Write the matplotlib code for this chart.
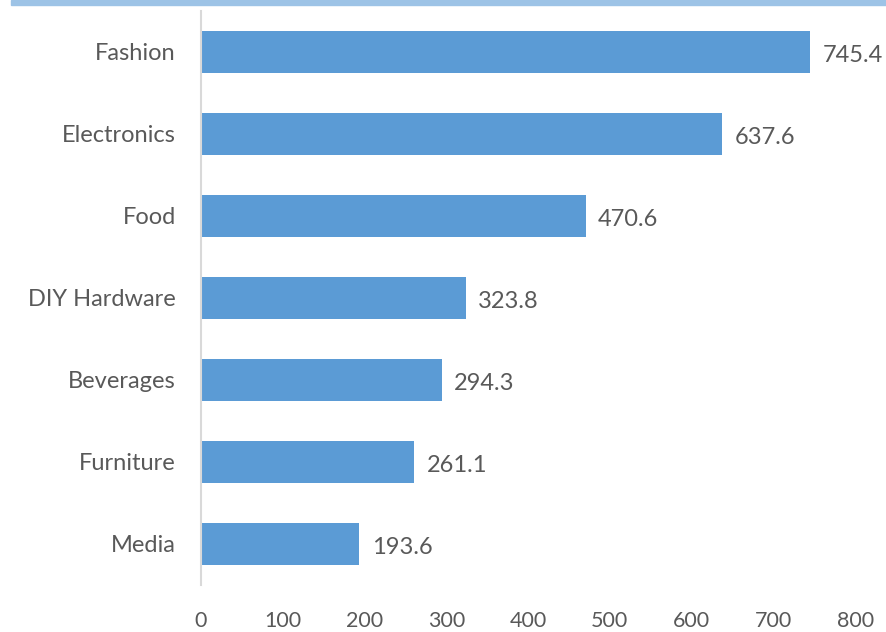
import matplotlib.pyplot as plt
from matplotlib.patches import Rectangle

# sales by category (top to bottom)
categories = ["Fashion", "Electronics", "Food", "DIY Hardware",
              "Beverages", "Furniture", "Media"]
sales = [745.4, 637.6, 470.6, 323.8, 294.3, 261.1, 193.6]
x_ticks = [0, 100, 200, 300, 400, 500, 600, 700, 800]

bar_color = "#5B9BD5"
text_color = "#595959"

plt.rcParams['font.family'] = ['Lato', 'DejaVu Sans']

fig = plt.figure(figsize=(8.87, 6.32), dpi=100)
ax = fig.add_axes([0.2266, 0.0744, 0.7374, 0.9082])

# light blue band across the top
fig.patches.append(Rectangle((11 / 887, 1 - 5 / 632), 1, 5 / 632,
                             transform=fig.transFigure, color="#9DC3E6",
                             zorder=0))

pos = list(range(len(categories)))
ax.barh(pos, sales, height=0.52, color=bar_color, zorder=2)

for y, v in zip(pos, sales):
    ax.text(v + 15, y + 0.04, f"{v:.1f}", va="center", ha="left",
            fontsize=17, color=text_color)

ax.set_xlim(0, 800)
ax.set_ylim(len(categories) - 0.5, -0.5)
ax.set_yticks(pos)
ax.set_yticklabels(categories)
ax.set_xticks(x_ticks)
ax.set_xticklabels([str(t) for t in x_ticks])

ax.tick_params(axis="y", length=0, pad=18, labelsize=17,
               labelcolor=text_color)
ax.tick_params(axis="x", length=0, pad=19, labelsize=15.5,
               labelcolor=text_color)

for side in ("top", "right", "bottom"):
    ax.spines[side].set_visible(False)
ax.spines["left"].set_color("#D9D9D9")
ax.spines["left"].set_linewidth(1.5)

fig.savefig("out.png", dpi=100)
